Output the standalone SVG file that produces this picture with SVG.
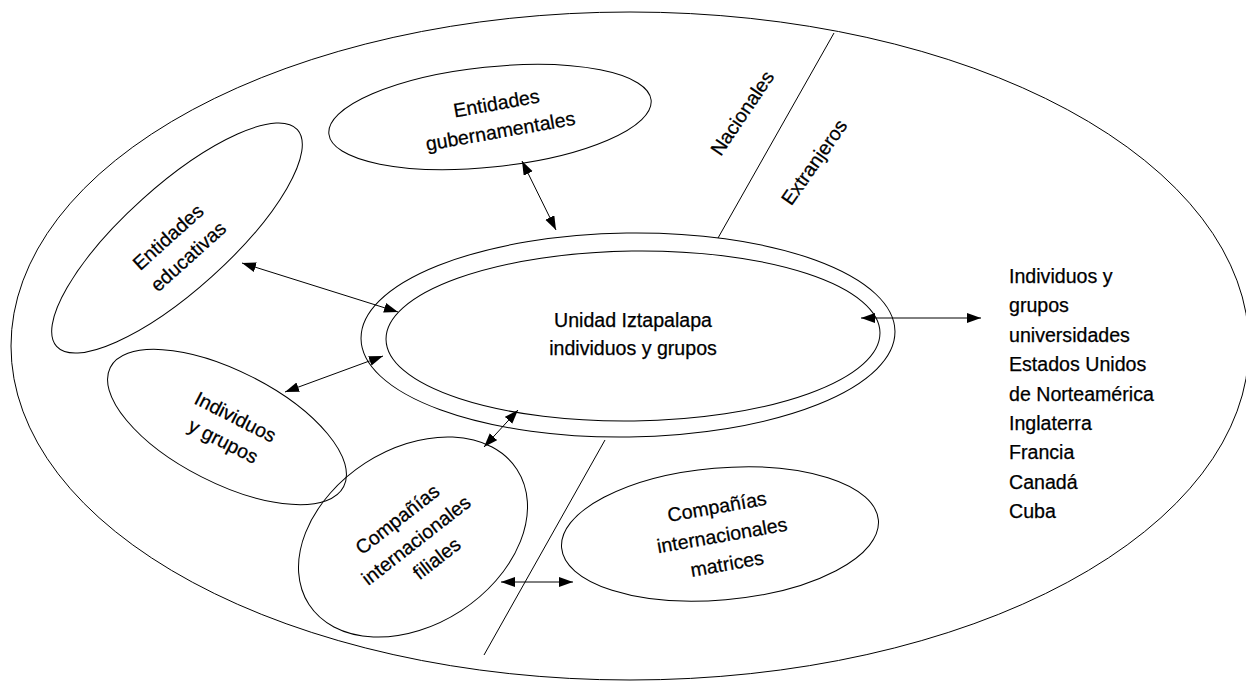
<svg xmlns="http://www.w3.org/2000/svg" width="1246" height="683" viewBox="0 0 1246 683">
<defs>
<marker id="ah" markerUnits="userSpaceOnUse" markerWidth="15" markerHeight="11" refX="14" refY="5" orient="auto-start-reverse">
<path d="M0,0 L14,5 L0,10 z" fill="#000"/>
</marker>
</defs>
<style>
.e{fill:none;stroke:#000;stroke-width:1}
.l{fill:none;stroke:#000;stroke-width:1}
.a{fill:none;stroke:#000;stroke-width:1;marker-start:url(#ah);marker-end:url(#ah)}
text{font-family:"Liberation Sans",Arial,sans-serif;font-size:19.6px;fill:#000;stroke:#000;stroke-width:0.25}
.c{text-anchor:middle}
</style>
<rect width="1246" height="683" fill="#fff"/>
<g id="outer"><ellipse class="e" cx="630" cy="346" rx="619" ry="334"/></g>
<g id="dividers">
<line class="l" x1="834" y1="33" x2="718" y2="238"/>
<line class="l" x1="605" y1="440" x2="484" y2="655"/>
</g>
<g id="labels-region">
<text class="c" transform="translate(742,113) rotate(-56)" y="7">Nacionales</text>
<text class="c" transform="translate(814,162) rotate(-55)" y="7">Extranjeros</text>
</g>
<g id="gubernamentales">
<ellipse class="e" cx="490" cy="117" rx="162" ry="50" transform="rotate(-6 490 117)"/>
<g transform="translate(498,118) rotate(-10)">
<text class="c" x="1" y="-8">Entidades</text>
<text class="c" x="0" y="20">gubernamentales</text>
</g>
</g>
<g id="educativas" transform="translate(177,238) rotate(-42)">
<ellipse class="e" cx="0" cy="0" rx="162" ry="52"/>
<text class="c" x="-6" y="0">Entidades</text>
<text class="c" x="-4" y="28">educativas</text>
</g>
<g id="individuos" transform="translate(227,427) rotate(27)">
<ellipse class="e" cx="0" cy="0" rx="131" ry="56"/>
<text class="c" x="3" y="-6">Individuos</text>
<text class="c" x="3" y="21">y grupos</text>
</g>
<g id="unidad">
<ellipse class="e" cx="628" cy="335" rx="267" ry="102" transform="rotate(-0.8 628 335)"/>
<ellipse class="e" cx="633" cy="336" rx="247" ry="85" transform="rotate(-0.8 633 336)"/>
<text class="c" x="633" y="327">Unidad Iztapalapa</text>
<text class="c" x="633" y="355">individuos y grupos</text>
</g>
<g id="filiales">
<ellipse class="e" cx="413" cy="537" rx="124" ry="88" transform="rotate(-33 413 537)"/>
<g transform="translate(416,540) rotate(-38)">
<text class="c" x="-2" y="-21">Compañías</text>
<text class="c" x="0" y="7">internacionales</text>
<text class="c" x="5" y="34">filiales</text>
</g>
</g>
<g id="matrices">
<ellipse class="e" cx="720" cy="534" rx="159" ry="66" transform="rotate(-5 720 534)"/>
<g transform="translate(722,535) rotate(-10)">
<text class="c" x="0" y="-22">Compañías</text>
<text class="c" x="0" y="7">internacionales</text>
<text class="c" x="0" y="36">matrices</text>
</g>
</g>
<g id="extranjeros">
<text x="1009" y="283">Individuos y</text>
<text x="1009" y="312.4">grupos</text>
<text x="1009" y="341.8">universidades</text>
<text x="1009" y="371.2">Estados Unidos</text>
<text x="1009" y="400.6">de Norteamérica</text>
<text x="1009" y="430">Inglaterra</text>
<text x="1009" y="459.4">Francia</text>
<text x="1009" y="488.8">Canadá</text>
<text x="1009" y="518.2">Cuba</text>
</g>
<g id="connectors">
<line class="a" x1="522" y1="161" x2="556" y2="230"/>
<line class="a" x1="242" y1="263" x2="398" y2="312"/>
<line class="a" x1="285" y1="392" x2="383" y2="356"/>
<line class="a" x1="484" y1="447" x2="518" y2="410"/>
<line class="a" x1="861" y1="318" x2="981" y2="318"/>
<line class="a" x1="501" y1="582" x2="573" y2="582"/>
</g>
</svg>
